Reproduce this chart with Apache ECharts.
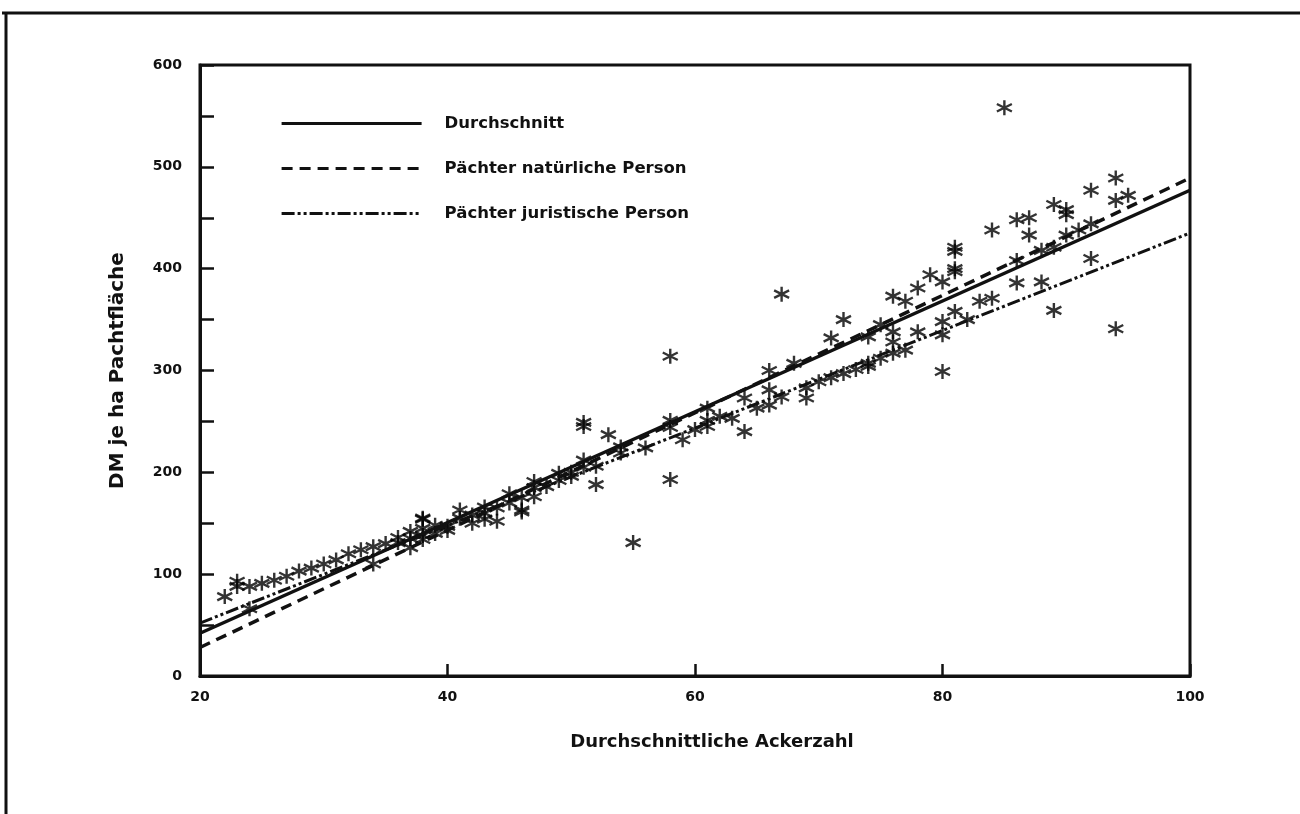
<!DOCTYPE html>
<html>
<head>
<meta charset="utf-8">
<script src="https://cdn.jsdelivr.net/npm/echarts@6/dist/echarts.min.js"></script>
<style>
html,body{margin:0;padding:0;background:#fff;}
#c{width:1300px;height:814px;}
</style>
</head>
<body>
<div id="c"></div>
<script>
var xTitle = 'Durchschnittliche Ackerzahl';
var yTitle = 'DM je ha Pachtfläche';
var seriesNames = ['Durchschnitt', 'Pächter natürliche Person', 'Pächter juristische Person'];
var xTicks = [20, 40, 60, 80, 100];
var yTicks = [0, 100, 200, 300, 400, 500, 600];

// regression lines (value at x=20 and x=100)
var lineDurchschnitt = [[20, 42], [100, 477]];
var lineNatuerlich = [[20, 28], [100, 489]];
var lineJuristisch = [[20, 52], [100, 435]];

// observed points (Ackerzahl, DM/ha)
var points = [
  [22,78],[23,93],[23,88],[24,88],[25,91],[26,94],[27,98],[28,103],[29,106],[30,110],
  [31,114],[32,120],[33,124],[34,127],[35,130],[36,136],[37,142],[38,154],[39,148],[40,147],
  [24,66],[34,110],[37,126],[36,131],[38,138],[38,134],[37,135],[38,145],[39,140],[40,143],
  [38,155],[41,155],[42,150],[41,163],[43,166],[44,152],[45,179],[46,163],[46,161],[47,176],
  [47,191],[49,199],[51,212],[54,225],[52,206],[42,158],[43,160],[43,154],[44,165],[45,170],
  [46,175],[47,185],[48,186],[49,192],[50,196],[50,200],[51,205],
  [51,249],[51,245],[53,237],[52,188],[55,131],[58,314],[58,193],[54,219],[56,224],[59,232],
  [58,244],[58,251],[61,263],[61,245],[64,273],[64,240],[66,281],[66,300],[63,253],[65,263],
  [62,255],[60,242],[61,251],[68,307],[67,274],[66,266],[69,283],[69,273],[70,289],[71,293],
  [67,375],[72,350],[71,332],
  [72,297],[73,301],[74,304],[74,307],[75,312],[76,317],[77,320],[75,345],[76,338],[76,328],
  [74,333],[78,338],[80,348],[80,335],[81,358],[82,350],[83,368],[84,371],[80,299],[76,373],
  [77,368],[78,381],[79,394],[80,387],[81,417],[81,421],[81,400],[81,397],[86,386],[86,408],
  [84,438],[86,448],[87,450],[87,433],[88,418],[88,387],[89,421],[89,463],[90,458],[90,453],
  [90,433],[91,438],[92,444],[92,477],[92,410],[89,359],[94,489],[94,467],[95,472],[94,341],
  [85,558]
];

var FONT = 'DejaVu Sans';
var star = 'path://M0,-10L0,10M-8.66,-5L8.66,5M-8.66,5L8.66,-5';

var chart = echarts.init(document.getElementById('c'), null, {renderer: 'canvas'});
chart.setOption({
  backgroundColor: '#ffffff',
  animation: false,
  textStyle: {fontFamily: FONT},
  graphic: [
    {type: 'line', shape: {x1: 2, y1: 13, x2: 1300, y2: 13}, style: {stroke: '#111', lineWidth: 3}},
    {type: 'line', shape: {x1: 6, y1: 12, x2: 6, y2: 814}, style: {stroke: '#111', lineWidth: 3}}
  ],
  legend: {
    data: seriesNames,
    orient: 'vertical',
    left: 275,
    top: 110,
    itemWidth: 140,
    itemHeight: 14,
    itemGap: 28,
    itemStyle: {color: 'rgba(0,0,0,0)', borderWidth: 0, opacity: 0},
    lineStyle: {width: 3.2, color: '#111'},
    textStyle: {fontFamily: FONT, fontWeight: 'bold', fontSize: 16.5, color: '#111', padding: [0, 0, 0, 18]}
  },
  grid: {left: 200, right: 110, top: 65, bottom: 138, show: true, borderColor: '#111', borderWidth: 3, backgroundColor: 'transparent'},
  xAxis: {
    type: 'value',
    min: xTicks[0], max: xTicks[xTicks.length - 1], interval: 20,
    name: xTitle, nameLocation: 'middle', nameGap: 57,
    nameTextStyle: {fontFamily: FONT, fontWeight: 'bold', fontSize: 18, color: '#111', padding: [0, 0, 0, 34]},
    axisLine: {show: true, lineStyle: {color: '#111', width: 3}},
    axisTick: {show: true, inside: true, length: 12, lineStyle: {color: '#111', width: 2.5}},
    axisLabel: {margin: 14, fontFamily: FONT, fontWeight: 'bold', fontSize: 14, color: '#111'},
    splitLine: {show: false}
  },
  yAxis: {
    type: 'value',
    min: yTicks[0], max: yTicks[yTicks.length - 1], interval: 50,
    name: yTitle, nameLocation: 'middle', nameGap: 72, nameRotate: 90,
    nameTextStyle: {fontFamily: FONT, fontWeight: 'bold', fontSize: 20, color: '#111'},
    axisLine: {show: true, lineStyle: {color: '#111', width: 3}},
    axisTick: {show: true, inside: true, length: 14, lineStyle: {color: '#111', width: 2.5}},
    axisLabel: {
      margin: 18, fontFamily: FONT, fontWeight: 'bold', fontSize: 14, color: '#111',
      formatter: function (v) { return yTicks.indexOf(v) >= 0 ? String(v) : ''; }
    },
    splitLine: {show: false}
  },
  series: [
    {
      name: 'Punkte', type: 'scatter', data: points,
      symbol: star, symbolSize: 15,
      itemStyle: {color: 'rgba(0,0,0,0)', borderColor: '#000', borderWidth: 2.4},
      z: 3
    },
    {
      name: seriesNames[0], type: 'line', data: lineDurchschnitt, symbol: 'none',
      itemStyle: {color: '#111'},
      lineStyle: {color: '#111', width: 3.5, type: 'solid'}, z: 4
    },
    {
      name: seriesNames[1], type: 'line', data: lineNatuerlich, symbol: 'none',
      itemStyle: {color: '#111'},
      lineStyle: {color: '#111', width: 3.5, type: [11, 7]}, z: 4
    },
    {
      name: seriesNames[2], type: 'line', data: lineJuristisch, symbol: 'none',
      itemStyle: {color: '#111'},
      lineStyle: {color: '#111', width: 3, type: [13, 3, 3, 3, 3, 3]}, z: 4
    }
  ]
});
</script>
</body>
</html>
